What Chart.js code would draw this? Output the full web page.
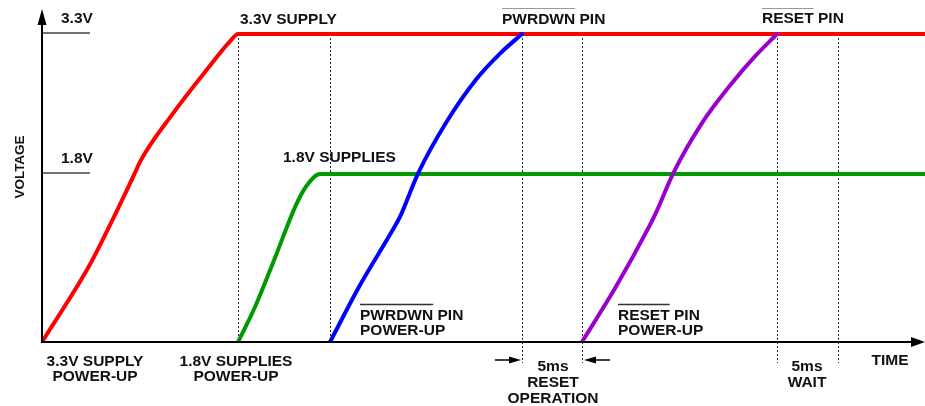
<!DOCTYPE html>
<html>
<head>
<meta charset="utf-8">
<script src="https://cdn.jsdelivr.net/npm/chart.js@4"></script>
<style>
  html, body { margin: 0; padding: 0; background: #fff; }
  #wrap { width: 925px; height: 406px; }
</style>
</head>
<body>
<div id="wrap"><canvas id="c" width="925" height="406"></canvas></div>
<script>
// ---- data (time in ms, voltage in V) ----
const supply33Time = [0, 3.93, 6.12, 7.79, 8.03, 10.74, 13.52, 15.41, 16.07, 72.4];
const supply33Volt = [0, 0.83, 1.40, 1.86, 1.93, 2.45, 2.92, 3.22, 3.30, 3.30];

const supply18Time = [16.07, 17.46, 18.93, 20.90, 21.72, 22.79, 23.61, 72.4];
const supply18Volt = [0, 0.375, 0.846, 1.49, 1.68, 1.80, 1.80, 1.80];

const pwrdwnTime = [23.61, 26.07, 28.66, 29.34, 30.84, 33.17, 35.63, 37.54, 39.34];
const pwrdwnVolt = [0, 0.61, 1.18, 1.34, 1.81, 2.36, 2.82, 3.09, 3.30];

const resetTime = [44.26, 46.97, 49.70, 50.38, 51.75, 54.07, 56.53, 58.44, 60.25];
const resetVolt = [0, 0.575, 1.22, 1.40, 1.81, 2.34, 2.77, 3.06, 3.30];

// event markers (ms): dotted verticals
const markerTimes = [16.07, 23.61, 39.34, 44.26, 60.25, 65.25];
const markerExtendBelow = [false, false, true, true, true, true];

// voltage level ticks
const levelValues = [3.3, 1.8];
const levelLabels = ['3.3V', '1.8V'];

const xMin = 0, xMax = 72.38;
const yMin = 0, yMax = 3.557;

function pts(xs, ys) { return xs.map((x, i) => ({ x: x, y: ys[i] })); }

const FONT = 'bold 15.5px "Liberation Sans", Arial, Helvetica, sans-serif';

const decor = {
  id: 'decor',
  beforeDatasetsDraw(chart) {
    const ctx = chart.ctx;
    const xs = chart.scales.x, ys = chart.scales.y;
    const yTop = ys.getPixelForValue(3.3);
    const yBase = ys.getPixelForValue(0);
    ctx.save();
    ctx.strokeStyle = '#222';
    ctx.lineWidth = 1;
    ctx.setLineDash([2, 2]);
    markerTimes.forEach((t, i) => {
      const px = Math.round(xs.getPixelForValue(t)) + 0.5;
      ctx.beginPath();
      ctx.moveTo(px, yTop);
      ctx.lineTo(px, markerExtendBelow[i] ? yBase + 21 : yBase);
      ctx.stroke();
    });
    ctx.restore();
  },
  afterDatasetsDraw(chart) {
    const ctx = chart.ctx;
    const xs = chart.scales.x, ys = chart.scales.y;
    const x0 = xs.getPixelForValue(0);
    const y0 = ys.getPixelForValue(0);
    ctx.save();
    // axes
    ctx.strokeStyle = '#000';
    ctx.fillStyle = '#000';
    ctx.lineWidth = 2;
    ctx.beginPath();
    ctx.moveTo(x0, y0 + 1);
    ctx.lineTo(x0, 20);
    ctx.stroke();
    ctx.beginPath();
    ctx.moveTo(x0 - 1, y0);
    ctx.lineTo(915, y0);
    ctx.stroke();
    // arrowheads
    ctx.beginPath();
    ctx.moveTo(x0, 9); ctx.lineTo(x0 - 4.5, 25); ctx.lineTo(x0 + 4.5, 25); ctx.closePath(); ctx.fill();
    ctx.beginPath();
    ctx.moveTo(925, y0); ctx.lineTo(911, y0 - 5); ctx.lineTo(911, y0 + 5); ctx.closePath(); ctx.fill();

    // level ticks
    ctx.strokeStyle = '#444';
    ctx.lineWidth = 1.5;
    levelValues.forEach(v => {
      const py = ys.getPixelForValue(v) - 1;
      ctx.beginPath(); ctx.moveTo(x0 + 1, py); ctx.lineTo(90, py); ctx.stroke();
    });

    // texts
    ctx.fillStyle = '#111';
    ctx.font = FONT;
    ctx.textBaseline = 'alphabetic';
    ctx.textAlign = 'left';
    ctx.fillText(levelLabels[0], 61, 23);
    ctx.fillText(levelLabels[1], 61, 163);
    ctx.fillText('3.3V SUPPLY', 240, 23.5);
    ctx.fillText('PWRDWN PIN', 502, 23.5);
    ctx.fillText('RESET PIN', 762, 23);
    ctx.fillText('1.8V SUPPLIES', 283, 162);
    ctx.fillText('PWRDWN PIN', 360, 320);
    ctx.fillText('POWER-UP', 360, 335);
    ctx.fillText('RESET PIN', 618, 320);
    ctx.fillText('POWER-UP', 618, 335);

    // overlines
    const wPw = ctx.measureText('PWRDWN').width;
    const wRs = ctx.measureText('RESET').width;
    ctx.lineWidth = 1;
    ctx.strokeStyle = '#999';
    ctx.beginPath(); ctx.moveTo(502, 8.5); ctx.lineTo(502 + wPw, 8.5); ctx.stroke();
    ctx.beginPath(); ctx.moveTo(762, 8.5); ctx.lineTo(762 + wRs, 8.5); ctx.stroke();
    ctx.strokeStyle = '#333';
    ctx.lineWidth = 1.4;
    ctx.beginPath(); ctx.moveTo(360, 304.5); ctx.lineTo(360 + wPw, 304.5); ctx.stroke();
    ctx.beginPath(); ctx.moveTo(618, 304.5); ctx.lineTo(618 + wRs, 304.5); ctx.stroke();

    ctx.textAlign = 'center';
    ctx.fillText('3.3V SUPPLY', 95, 366);
    ctx.fillText('POWER-UP', 95, 381);
    ctx.fillText('1.8V SUPPLIES', 236, 366);
    ctx.fillText('POWER-UP', 236, 381);
    ctx.fillText('5ms', 553, 371);
    ctx.fillText('RESET', 553, 387);
    ctx.fillText('OPERATION', 553, 402.5);
    ctx.fillText('5ms', 807, 371);
    ctx.fillText('WAIT', 807, 387);
    ctx.fillText('TIME', 890, 365);

    // VOLTAGE rotated
    ctx.save();
    ctx.translate(24, 167);
    ctx.rotate(-Math.PI / 2);
    ctx.font = 'bold 13.5px "Liberation Sans", Arial, Helvetica, sans-serif';
    ctx.fillText('VOLTAGE', 0, 0);
    ctx.restore();

    // 5ms reset arrows
    const aL = Math.round(xs.getPixelForValue(markerTimes[2])) - 1;
    const aR = Math.round(xs.getPixelForValue(markerTimes[3])) + 2;
    const ay = 360;
    ctx.strokeStyle = '#000';
    ctx.fillStyle = '#000';
    ctx.lineWidth = 1.5;
    ctx.beginPath(); ctx.moveTo(aL - 26, ay); ctx.lineTo(aL - 10, ay); ctx.stroke();
    ctx.beginPath(); ctx.moveTo(aL, ay); ctx.lineTo(aL - 12, ay - 3.5); ctx.lineTo(aL - 12, ay + 3.5); ctx.closePath(); ctx.fill();
    ctx.beginPath(); ctx.moveTo(aR + 26, ay); ctx.lineTo(aR + 10, ay); ctx.stroke();
    ctx.beginPath(); ctx.moveTo(aR, ay); ctx.lineTo(aR + 12, ay - 3.5); ctx.lineTo(aR + 12, ay + 3.5); ctx.closePath(); ctx.fill();
    ctx.restore();
  }
};

const common = {
  showLine: true, pointRadius: 0, borderWidth: 4, fill: false,
  cubicInterpolationMode: 'monotone', borderCapStyle: 'round', borderJoinStyle: 'round'
};

new Chart(document.getElementById('c'), {
  type: 'line',
  data: {
    datasets: [
      Object.assign({ label: 'RESET', data: pts(resetTime, resetVolt), borderColor: '#9900cc', order: 0 }, common),
      Object.assign({ label: 'PWRDWN', data: pts(pwrdwnTime, pwrdwnVolt), borderColor: '#0000ff', order: 1 }, common),
      Object.assign({ label: '3.3V', data: pts(supply33Time, supply33Volt), borderColor: '#ff0000', order: 2 }, common),
      Object.assign({ label: '1.8V', data: pts(supply18Time, supply18Volt), borderColor: '#009900', order: 3 }, common)
    ]
  },
  options: {
    responsive: false,
    animation: false,
    events: [],
    layout: { padding: { left: 42, right: 0, top: 10, bottom: 64 } },
    plugins: { legend: { display: false }, tooltip: { enabled: false } },
    scales: {
      x: { type: 'linear', min: xMin, max: xMax, display: false },
      y: { type: 'linear', min: yMin, max: yMax, display: false }
    }
  },
  plugins: [decor]
});
</script>
</body>
</html>
